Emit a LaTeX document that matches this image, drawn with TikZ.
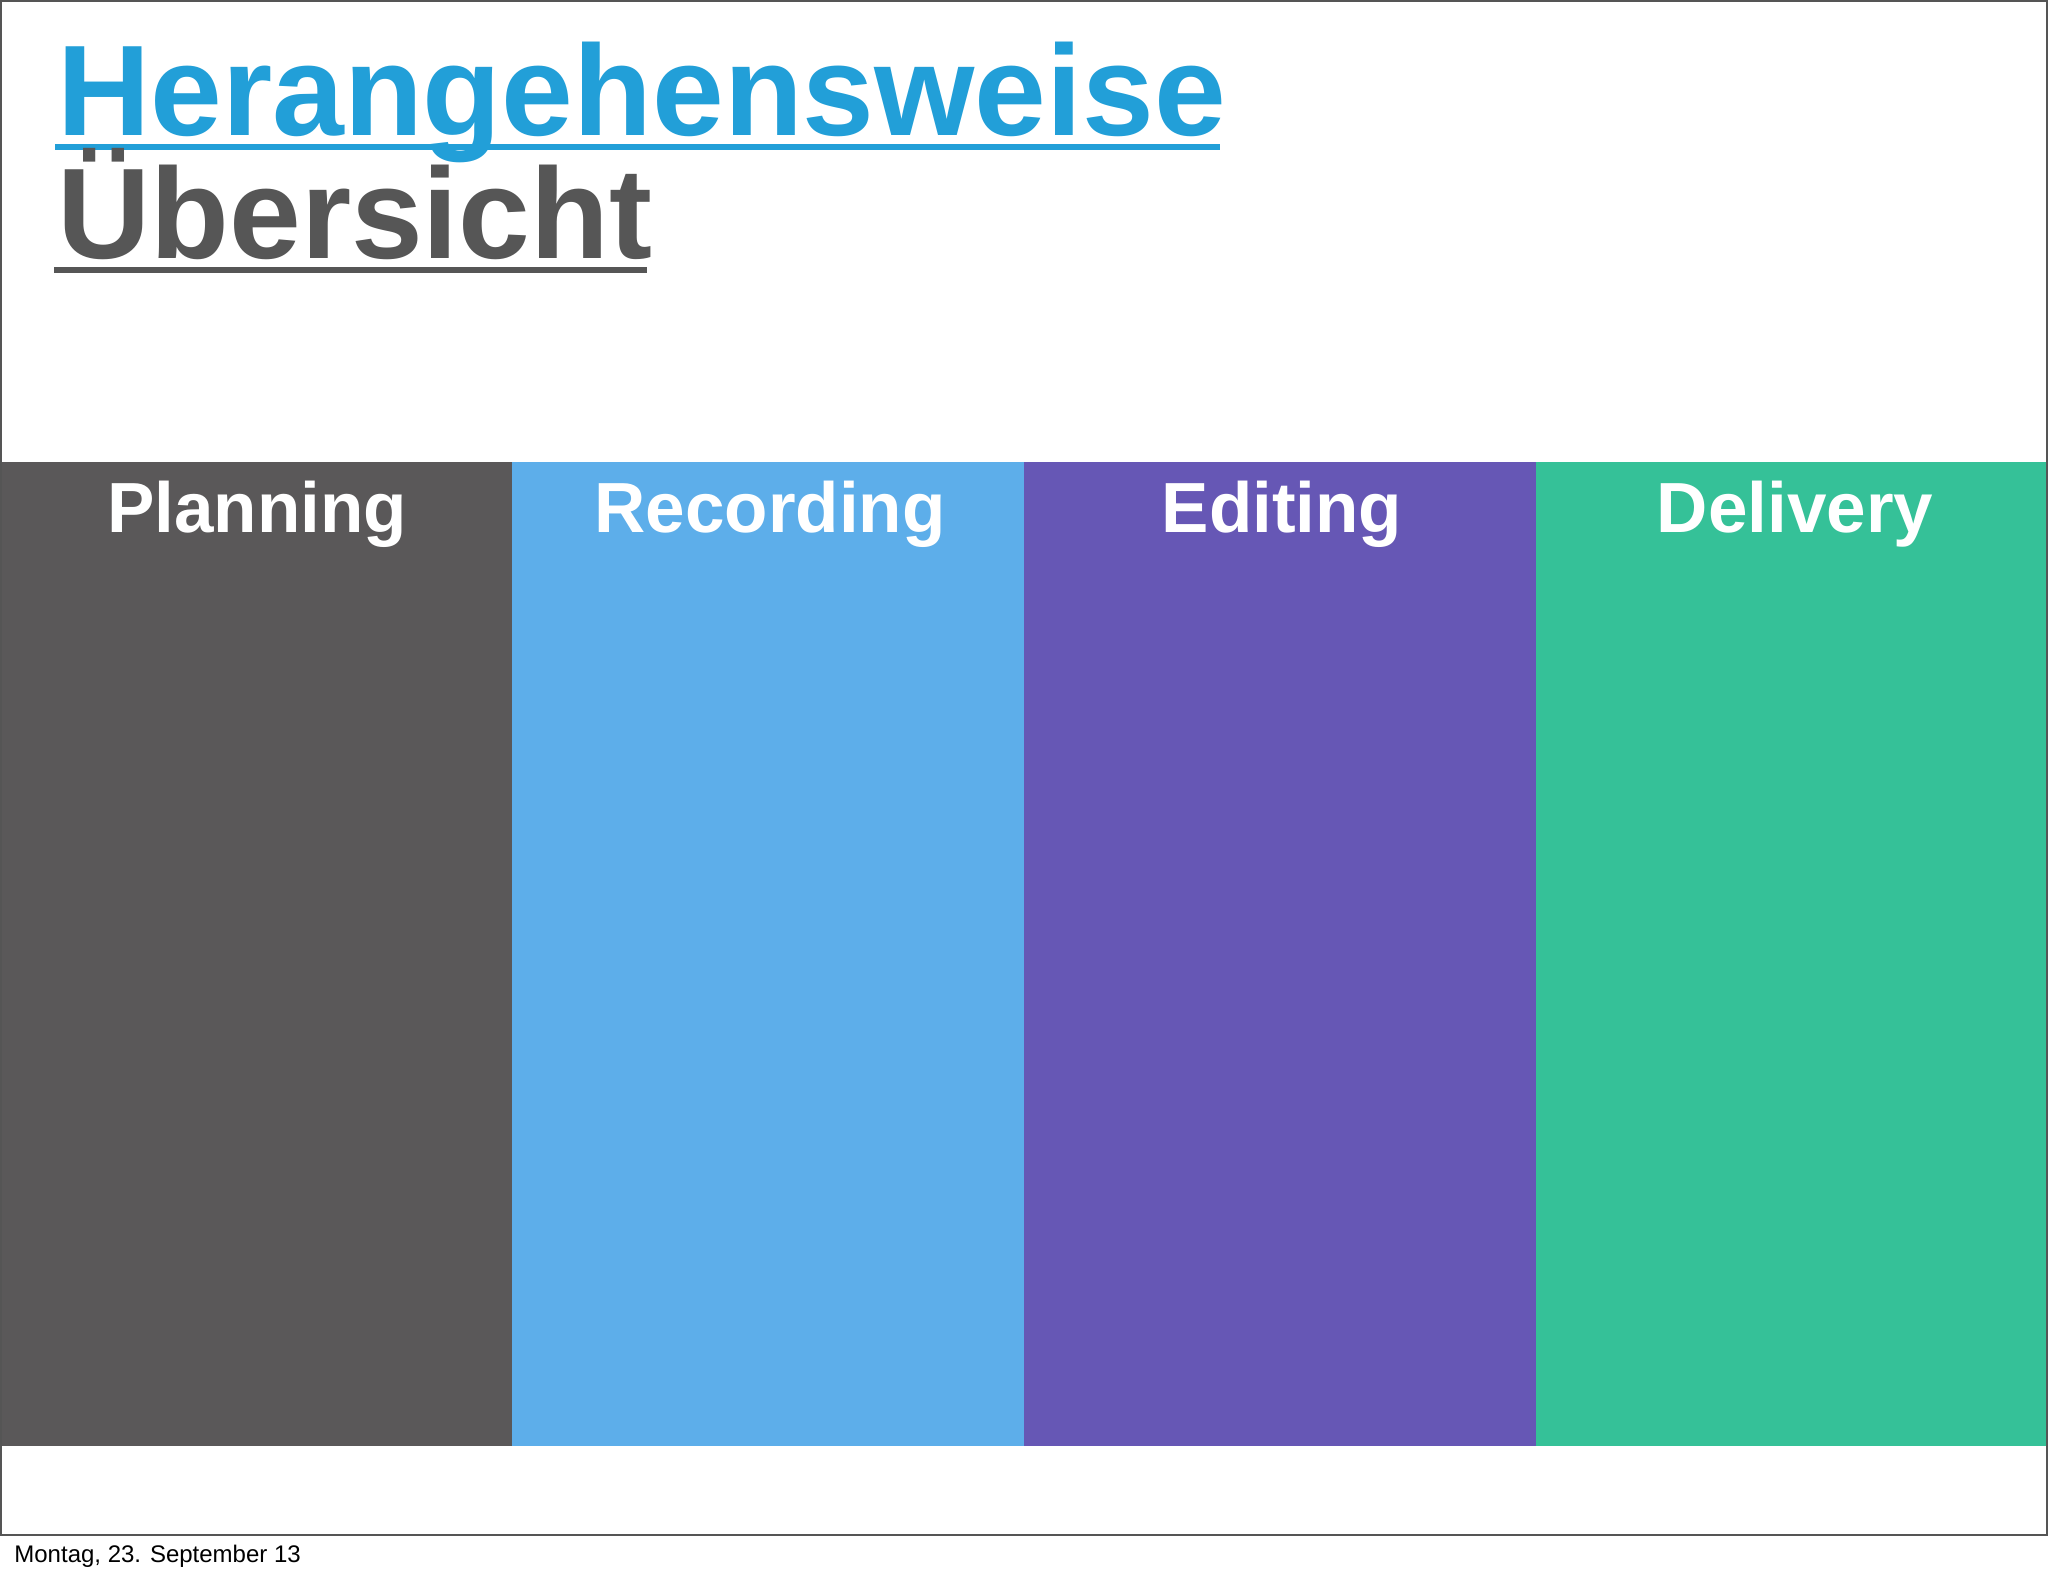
\documentclass[tikz,border=0pt]{standalone}
\usepackage{fontspec}
\setmainfont{Liberation Sans}
\definecolor{titleblue}{HTML}{229FD8}
\definecolor{titlegray}{HTML}{565656}
\definecolor{cplan}{HTML}{5A5859}
\definecolor{crec}{HTML}{5DAEEA}
\definecolor{cedit}{HTML}{6657B5}
\definecolor{cdeliv}{HTML}{35C198}
\definecolor{framegray}{HTML}{555555}
\begin{document}
\begin{tikzpicture}[x=0.5pt,y=-0.5pt,
  col/.style={fill=#1, draw=none, minimum width=256pt, minimum height=492pt, inner sep=0pt, outer sep=0pt, anchor=north west},
  collabel/.style={text=white, font=\fontsize{35.5}{40}\selectfont\bfseries, anchor=base, inner sep=0pt},
  title/.style={font=\fontsize{64.5}{70}\selectfont\bfseries, anchor=base west, inner sep=0pt}]
\useasboundingbox[fill=white] (0,0) rectangle (2048,1576);
% columns
\node[col=cplan] (c1) at (0,462) {};
\node[col=crec] (c2) at (512,462) {};
\node[col=cedit] (c3) at (1024,462) {};
\node[col=cdeliv] (c4) at (1536,462) {};
\node[collabel] (l1) at (257,532) {Planning};
\node[collabel] (l2) at (770,532) {Recording};
\node[collabel] (l3) at (1282,532) {Editing};
\node[collabel] (l4) at (1795,532) {Delivery};
% frame
\draw[framegray, line width=1.2pt] (1,1) -- (2047,1) -- (2047,1535) -- (1,1535) -- cycle;
% titles
\node[title, text=titleblue] (t1) at (57,135) {Herangehensweise};
\draw[titleblue, line width=3pt] (55,147) -- (1220,147);
\node[title, text=titlegray] (t2) at (57,258) {Übersicht};
\draw[titlegray, line width=3pt] (54,270) -- (647,270);
% footer
\node[font=\fontsize{12}{14}\selectfont, anchor=base west, inner sep=0pt] (f) at (14,1562) {Montag, 23. September 13};
\end{tikzpicture}
\end{document}
